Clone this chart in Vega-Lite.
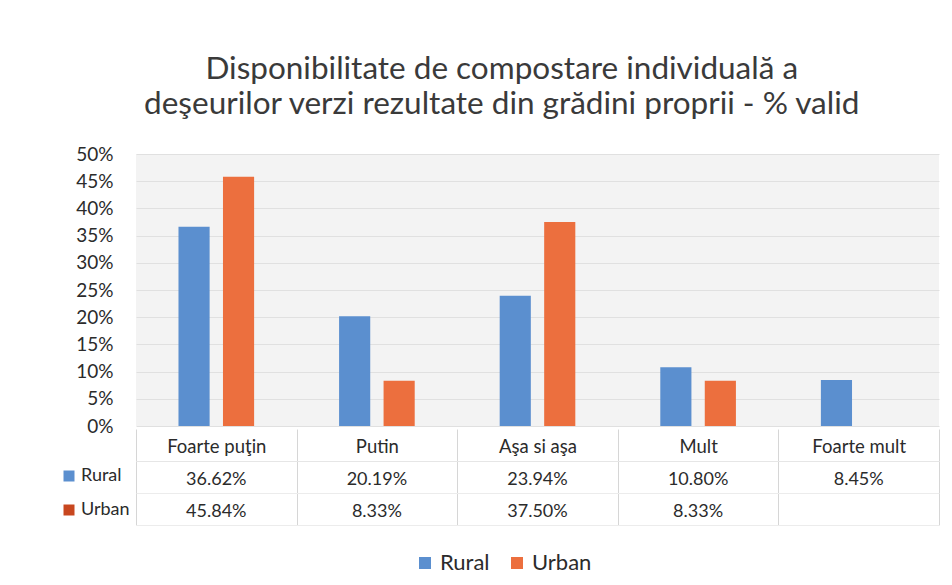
{
  "$schema": "https://vega.github.io/schema/vega-lite/v6.json",
  "background": "white",
  "padding": {"left": 60, "top": 53, "right": 5, "bottom": 5},
  "bounds": "flush",
  "spacing": 35,
  "config": {
    "font": "Lato",
    "view": {"stroke": null},
    "legend": {"labelFont": "Lato", "labelColor": "#2b2b2b"}
  },
  "title": {
    "text": ["Disponibilitate de compostare individuală a", "deşeurilor verzi rezultate din grădini proprii - % valid"],
    "fontSize": 31.5,
    "font": "Lato",
    "fontWeight": "normal",
    "color": "#3a3a3a",
    "lineHeight": 35,
    "anchor": "middle",
    "dx": 2,
    "offset": 25
  },
  "datasets": {
    "t": [
      {"cat": "Foarte puţin", "series": "Rural", "value": 0.3662},
      {"cat": "Foarte puţin", "series": "Urban", "value": 0.4584},
      {"cat": "Putin", "series": "Rural", "value": 0.2019},
      {"cat": "Putin", "series": "Urban", "value": 0.0833},
      {"cat": "Aşa si aşa", "series": "Rural", "value": 0.2394},
      {"cat": "Aşa si aşa", "series": "Urban", "value": 0.375},
      {"cat": "Mult", "series": "Rural", "value": 0.108},
      {"cat": "Mult", "series": "Urban", "value": 0.0833},
      {"cat": "Foarte mult", "series": "Rural", "value": 0.0845}
    ]
  },
  "data": {"name": "t"},
  "vconcat": [
    {
      "width": 803,
      "height": 272,
      "view": {"fill": "#f3f3f3", "stroke": null},
      "mark": {"type": "bar"},
      "encoding": {
        "x": {
          "field": "cat", "type": "nominal",
          "sort": ["Foarte puţin", "Putin", "Aşa si aşa", "Mult", "Foarte mult"],
          "scale": {"domain": ["Foarte puţin", "Putin", "Aşa si aşa", "Mult", "Foarte mult"], "paddingInner": 0, "paddingOuter": 0},
          "axis": null
        },
        "xOffset": {
          "field": "series", "type": "nominal",
          "scale": {"domain": ["Rural", "Urban"], "paddingInner": 0.3, "paddingOuter": 0.955}
        },
        "y": {
          "field": "value", "type": "quantitative",
          "scale": {"domain": [0, 0.5]},
          "axis": {
            "title": null, "format": "%",
            "values": [0, 0.05, 0.1, 0.15, 0.2, 0.25, 0.3, 0.35, 0.4, 0.45, 0.5],
            "labelFontSize": 19, "labelPadding": 23, "labelColor": "#2b2b2b",
            "ticks": false, "domain": false, "gridColor": "#e0e0e0"
          }
        },
        "color": {
          "field": "series", "type": "nominal",
          "scale": {"domain": ["Rural", "Urban"], "range": ["#5b8fcf", "#ec6f3e"]},
          "legend": {
            "orient": "none", "direction": "horizontal",
            "legendX": 278, "legendY": 398,
            "title": null, "symbolType": "square", "symbolSize": 144,
            "symbolStrokeWidth": 0,
            "labelFontSize": 22, "columnPadding": 16, "labelOffset": 4
          }
        }
      }
    },
    {
      "width": 803,
      "height": 64,
      "layer": [
        {
          "mark": {"type": "text", "fontSize": 18, "color": "#2b2b2b", "dy": 3},
          "encoding": {
            "x": {
              "field": "cat", "type": "nominal",
              "sort": ["Foarte puţin", "Putin", "Aşa si aşa", "Mult", "Foarte mult"],
              "scale": {"domain": ["Foarte puţin", "Putin", "Aşa si aşa", "Mult", "Foarte mult"], "paddingInner": 0, "paddingOuter": 0},
              "axis": {
                "orient": "top", "title": null, "labelAngle": 0,
                "labelFontSize": 18.5, "labelColor": "#2b2b2b",
                "tickBand": "extent", "tickSize": 32, "tickColor": "#d6d6d6",
                "labelPadding": -27, "domainColor": "#e6e6e6",
                "grid": true, "gridColor": "#d6d6d6"
              }
            },
            "y": {
              "field": "series", "type": "nominal",
              "scale": {"domain": ["Rural", "Urban"], "paddingInner": 0, "paddingOuter": 0},
              "axis": {"title": null, "labels": false, "ticks": false, "domain": false, "grid": true, "tickBand": "extent", "gridColor": "#ececec"}
            },
            "text": {"field": "value", "type": "quantitative", "format": ".2%"}
          }
        },
        {
          "mark": {"type": "point", "shape": "square", "filled": true, "opacity": 0},
          "encoding": {
            "x": {"field": "cat", "type": "nominal"},
            "y": {"field": "series", "type": "nominal"},
            "fill": {
              "field": "series", "type": "nominal",
              "scale": {"range": ["#5b8fcf", "#c8471f"]},
              "legend": {
                "orient": "none", "direction": "vertical",
                "legendX": -76, "legendY": 313,
                "title": null, "symbolType": "square", "symbolSize": 121,
                "symbolOpacity": 1, "symbolStrokeWidth": 0,
                "labelFontSize": 18, "rowPadding": 16, "labelOffset": 3,
                "encode": {"symbols": {"update": {"opacity": {"value": 1}, "fillOpacity": {"value": 1}}}}
              }
            }
          }
        }
      ]
    }
  ]
}
